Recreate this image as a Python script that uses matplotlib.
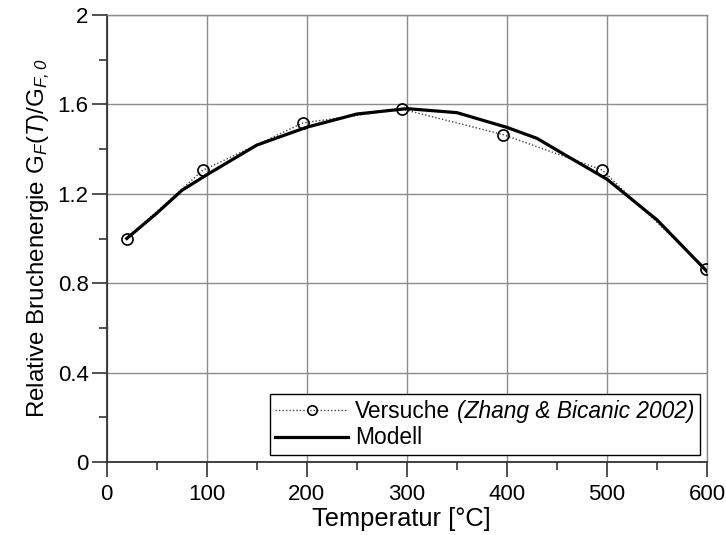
import numpy as np
import matplotlib
matplotlib.use("Agg")
import matplotlib.pyplot as plt
from matplotlib.ticker import MultipleLocator
from matplotlib.offsetbox import TextArea

plt.rcParams["font.family"] = ["Liberation Sans", "DejaVu Sans"]
plt.rcParams["mathtext.fontset"] = "custom"
plt.rcParams["mathtext.rm"] = "Liberation Sans"
plt.rcParams["mathtext.it"] = "Liberation Sans:italic"
# bf slot used as "italic incl. digits/punctuation"
plt.rcParams["mathtext.bf"] = "Liberation Sans:italic"

# ── Data ───────────────────────────────────────────────────────────────
test_temp = [20, 96, 196, 295, 396, 495, 599]
test_ratio = [1.00, 1.305, 1.517, 1.579, 1.465, 1.307, 0.862]

model_temp = [20, 50, 75, 100, 150, 200, 250, 300, 350, 400, 430, 450, 500, 550, 600]
model_ratio = [1.00, 1.113, 1.215, 1.285, 1.418, 1.498, 1.557, 1.581, 1.563,
               1.497, 1.448, 1.395, 1.265, 1.083, 0.852]

y_ticks = [0, 0.4, 0.8, 1.2, 1.6, 2.0]
y_ticklabels = ["0", "0.4", "0.8", "1.2", "1.6", "2"]

test_label = "Versuche"
test_source = "(Zhang & Bicanic 2002)"
model_label = "Modell"

# ── Figure ─────────────────────────────────────────────────────────────
fig = plt.figure(figsize=(7.26, 5.35), dpi=100)
ax = fig.add_axes([0.147, 0.1364, 0.827, 0.8356])

ax.plot(test_temp, test_ratio, color="#444444", linestyle=(0, (1, 1.5)), linewidth=1.0,
        marker="o", markersize=8, markerfacecolor="none", markeredgecolor="black",
        markeredgewidth=1.2, zorder=3, label=test_label)
ax.plot(model_temp, model_ratio, color="black", linewidth=2.3, zorder=4, label=model_label)

ax.set_xlim(0, 600)
ax.set_ylim(0, 2)
ax.xaxis.set_major_locator(MultipleLocator(100))
ax.xaxis.set_minor_locator(MultipleLocator(50))
ax.yaxis.set_minor_locator(MultipleLocator(0.2))
ax.set_yticks(y_ticks)
ax.set_yticklabels(y_ticklabels)

ax.tick_params(which="major", direction="out", length=10.5, width=1.1, labelsize=16,
               color="#222222")
ax.tick_params(axis="x", which="major", pad=5)
ax.tick_params(axis="y", which="major", pad=2.5)
ax.tick_params(which="minor", direction="out", length=5.5, width=1.1, color="#222222")
ax.grid(True, which="major", color="#8c8c8c", linewidth=1.0)
ax.set_axisbelow(True)
for side in ["top", "right"]:
    ax.spines[side].set_color("#8c8c8c")
    ax.spines[side].set_linewidth(1.0)
for side in ["left", "bottom"]:
    ax.spines[side].set_color("#333333")
    ax.spines[side].set_linewidth(1.3)

ax.set_xlabel("Temperatur [°C]", fontsize=18.4, labelpad=0)
ax.xaxis.set_label_coords(0.49, -0.1)
ax.set_ylabel(r"Relative Bruchenergie G$_{\mathbf{F}}$($\mathbf{T}$)/G$_{\mathbf{F,0}}$",
              fontsize=17.4, labelpad=4)

leg = ax.legend(loc="lower right", fontsize=16.4, frameon=True, fancybox=False,
                edgecolor="black", framealpha=1.0, handlelength=3.2,
                borderaxespad=0.3, borderpad=0.25, labelspacing=0.15, handletextpad=0.3,
                markerscale=0.85)
leg.get_frame().set_linewidth(1.0)

# italic source reference appended after "Versuche" inside the legend entry
try:
    item = leg._legend_handle_box.get_children()[0].get_children()[0]
    extra = TextArea(test_source, textprops=dict(fontsize=16.4, fontstyle="italic"))
    item.get_children().append(extra)
    extra.set_figure(fig)
except Exception:
    leg.get_texts()[0].set_text(test_label + " " + test_source)

fig.savefig("out.png", dpi=100)
